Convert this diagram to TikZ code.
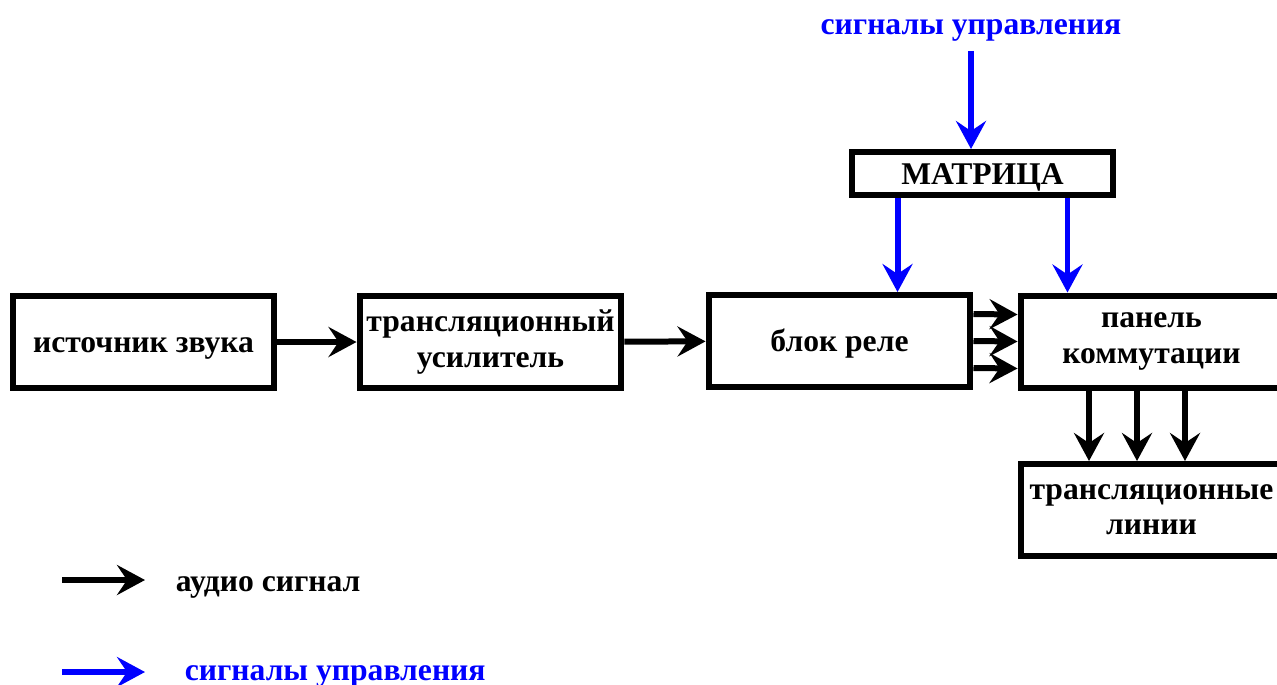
\documentclass[tikz,border=0pt]{standalone}
\usepackage{fontspec}
\setmainfont{Liberation Serif}
\usetikzlibrary{arrows.meta,positioning}

\begin{document}
\begin{tikzpicture}[x=0.02cm,y=-0.02cm,line width=0.12cm,
  >={Stealth[length=0.56cm,width=0.6cm,inset=0.2cm]},
  block/.style={draw,minimum width=5.24cm,minimum height=1.84cm,align=center,
    inner sep=0pt,font=\bfseries\fontsize{18}{20}\selectfont},
  oneline/.style={text height=16.5pt,text depth=4pt},
  lbl/.style={oneline,font=\bfseries\fontsize{18}{20}\selectfont},
  audio/.style={->,black},
  ctrl/.style={->,blue}]
 \useasboundingbox (0,0) rectangle (1277,684);

 % blocks
 \node[block,oneline] (src)    at (143.5,342)   {источник звука};
 \node[block] (amp)    at (490.5,342)   {трансляционный\\усилитель};
 \node[block,oneline] (relay)  at (839.5,341)   {блок реле};
 \node[block] (panel)  at (1151.5,341.5) {панель\\коммутации};
 \node[block] (lines)  at (1151.5,510)  {трансляционные\\линии};
 \node[block,oneline,minimum height=0.86cm] (matrix) at (982.5,173.5) {МАТРИЦА};
 \node[lbl,text=blue] (ctrlin) at (971,24) {сигналы управления};

 % audio path
 \draw[audio] (src) -- (amp);
 \draw[audio] (amp) -- (relay);
 \foreach \dy in {-0.54,0,0.54}
   \draw[audio] ([yshift=\dy cm]relay.east) -- ([yshift=\dy cm]panel.west);
 \foreach \dx in {1.43,2.39,3.35}
   \draw[audio] ([xshift=\dx cm]panel.south west) -- ([xshift=\dx cm]panel.south west |- lines.north);

 % control path
 \draw[ctrl] (ctrlin.south) -- (ctrlin.south |- matrix.north);
 \draw[ctrl] ([xshift=-1.7cm]matrix.south) -- ([xshift=-1.7cm]matrix.south |- relay.north);
 \draw[ctrl] ([xshift=1.7cm]matrix.south) -- ([xshift=1.7cm]matrix.south |- panel.north);

 % legend
 \coordinate (aud0) at (62,580);
 \coordinate (aud1) at (145,580);
 \coordinate (ctl0) at (62,672);
 \coordinate (ctl1) at (145,672);
 \draw[audio] (aud0) -- (aud1);
 \draw[ctrl] (ctl0) -- (ctl1);
 \node[lbl,anchor=west] (audtxt) at (167,581) {аудио сигнал};
 \node[lbl,anchor=west,text=blue] (ctltxt) at (176,670) {сигналы управления};
\end{tikzpicture}
\end{document}
